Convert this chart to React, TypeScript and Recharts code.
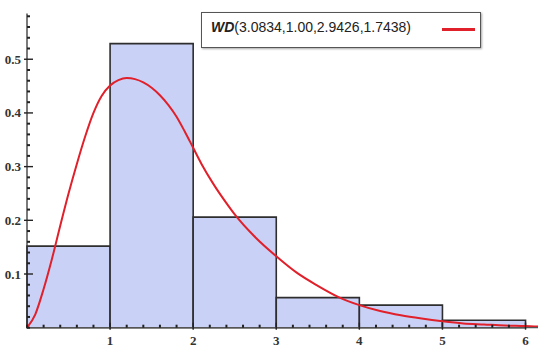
import { ComposedChart, Line, XAxis, YAxis, ReferenceArea } from 'recharts';

// histogram bins (left edge, right edge, height)
const binStart = [0, 1, 2, 3, 4, 5];
const binEnd = [1, 2, 3, 4, 5, 6];
const binHeight = [0.152, 0.529, 0.206, 0.056, 0.042, 0.014];

// fitted density
const curveX = [
  0, 0.1, 0.2, 0.3, 0.4, 0.5, 0.6, 0.7, 0.8, 0.9, 1.0, 1.1, 1.2, 1.3, 1.4, 1.5, 1.6, 1.7, 1.8, 1.9, 2.0,
  2.1, 2.25, 2.4, 2.5, 2.75, 3.0, 3.25, 3.5, 3.75, 4.0, 4.25, 4.5, 4.75, 5.0, 5.25, 5.5, 5.75, 6.0, 6.15,
];
const curveY = [
  0, 0.025, 0.072, 0.128, 0.19, 0.25, 0.305, 0.356, 0.4, 0.432, 0.451, 0.461, 0.465, 0.463, 0.457, 0.447, 0.433, 0.415, 0.393, 0.365, 0.335,
  0.305, 0.266, 0.232, 0.211, 0.168, 0.133, 0.102, 0.078, 0.057, 0.042, 0.031, 0.023, 0.017, 0.012, 0.008, 0.006, 0.004, 0.003, 0.002,
];

const xMajor = [1, 2, 3, 4, 5, 6];
const xTicks = [
  0, 0.2, 0.4, 0.6, 0.8, 1, 1.2, 1.4, 1.6, 1.8, 2, 2.2, 2.4, 2.6, 2.8, 3, 3.2, 3.4, 3.6, 3.8, 4,
  4.2, 4.4, 4.6, 4.8, 5, 5.2, 5.4, 5.6, 5.8, 6,
];
const yMajor = [0.1, 0.2, 0.3, 0.4, 0.5];
const yTicks = [
  0, 0.02, 0.04, 0.06, 0.08, 0.1, 0.12, 0.14, 0.16, 0.18, 0.2, 0.22, 0.24, 0.26, 0.28, 0.3,
  0.32, 0.34, 0.36, 0.38, 0.4, 0.42, 0.44, 0.46, 0.48, 0.5, 0.52, 0.54, 0.56, 0.58,
];

const legendLabel = '(3.0834,1.00,2.9426,1.7438)';

const curveData = curveX.map((x, i) => ({ x, y: curveY[i] }));

const isMajor = (list: number[], v: number) => list.some((m) => Math.abs(m - v) < 1e-6);

const tickFont = { fontFamily: '"Liberation Serif", serif', fontWeight: 700, fontSize: 13, fill: '#333' };

const XTick = ({ x, y, payload }: any) => {
  const major = isMajor(xMajor, payload.value);
  return (
    <g>
      <line x1={x} x2={x} y1={y + (major ? 2 : 0)} y2={y - (major ? 5 : 3)} stroke="#222" strokeWidth={major ? 1.4 : 2} />
      {major && (
        <text x={x} y={y + 17} textAnchor="middle" {...tickFont}>{payload.value}</text>
      )}
    </g>
  );
};

const YTick = ({ x, y, payload }: any) => {
  const major = isMajor(yMajor, payload.value);
  return (
    <g>
      <line x1={x - (major ? 3 : 0)} x2={x + (major ? 6 : 3)} y1={y} y2={y} stroke="#222" strokeWidth={major ? 1.4 : 2} />
      {major && (
        <text x={x - 6} y={y + 4.5} textAnchor="end" {...tickFont}>{payload.value}</text>
      )}
    </g>
  );
};

export default function App() {
  return (
    <div style={{ position: 'fixed', left: 0, top: 0, width: 550, height: 351, background: '#fff' }}>
      <ComposedChart width={550} height={351} data={curveData} margin={{ top: 13.6, right: 12, bottom: 0, left: 0 }}>
        <XAxis
          dataKey="x"
          type="number"
          domain={[0, 6.15]}
          ticks={xTicks}
          interval={0}
          tick={<XTick />}
          tickLine={false}
          tickSize={0}
          tickMargin={0}
          height={23.3}
          axisLine={{ stroke: '#555', strokeWidth: 1.2 }}
          allowDataOverflow
        />
        <YAxis
          type="number"
          domain={[0, 0.585]}
          ticks={yTicks}
          interval={0}
          tick={<YTick />}
          tickLine={false}
          tickSize={0}
          tickMargin={0}
          width={27}
          axisLine={{ stroke: '#333', strokeWidth: 1.3 }}
          allowDataOverflow
        />
        {binStart.map((s, i) => (
          <ReferenceArea
            key={i}
            x1={s}
            x2={binEnd[i]}
            y1={0}
            y2={binHeight[i]}
            fill="#cad1f6"
            fillOpacity={1}
            stroke="#2e2e2e"
            strokeWidth={1.6}
          />
        ))}
        <Line
          type="monotone"
          dataKey="y"
          stroke="#e0202a"
          strokeWidth={2}
          dot={false}
          isAnimationActive={false}
        />
      </ComposedChart>
      <div
        style={{
          position: 'absolute',
          left: 201,
          top: 12,
          width: 278,
          height: 34,
          border: '1.5px solid #555',
          boxShadow: '1px 1px 2px rgba(0,0,0,0.35)',
          background: '#fff',
          fontFamily: '"Liberation Sans", sans-serif',
          fontSize: 14,
          color: '#222',
        }}
      >
        <span style={{ position: 'absolute', left: 9, top: 6, whiteSpace: 'nowrap' }}>
          <b><i>WD</i></b>{legendLabel}
        </span>
        <div style={{ position: 'absolute', left: 240, top: 15, width: 33, height: 2.5, background: '#e0202a' }} />
      </div>
    </div>
  );
}
